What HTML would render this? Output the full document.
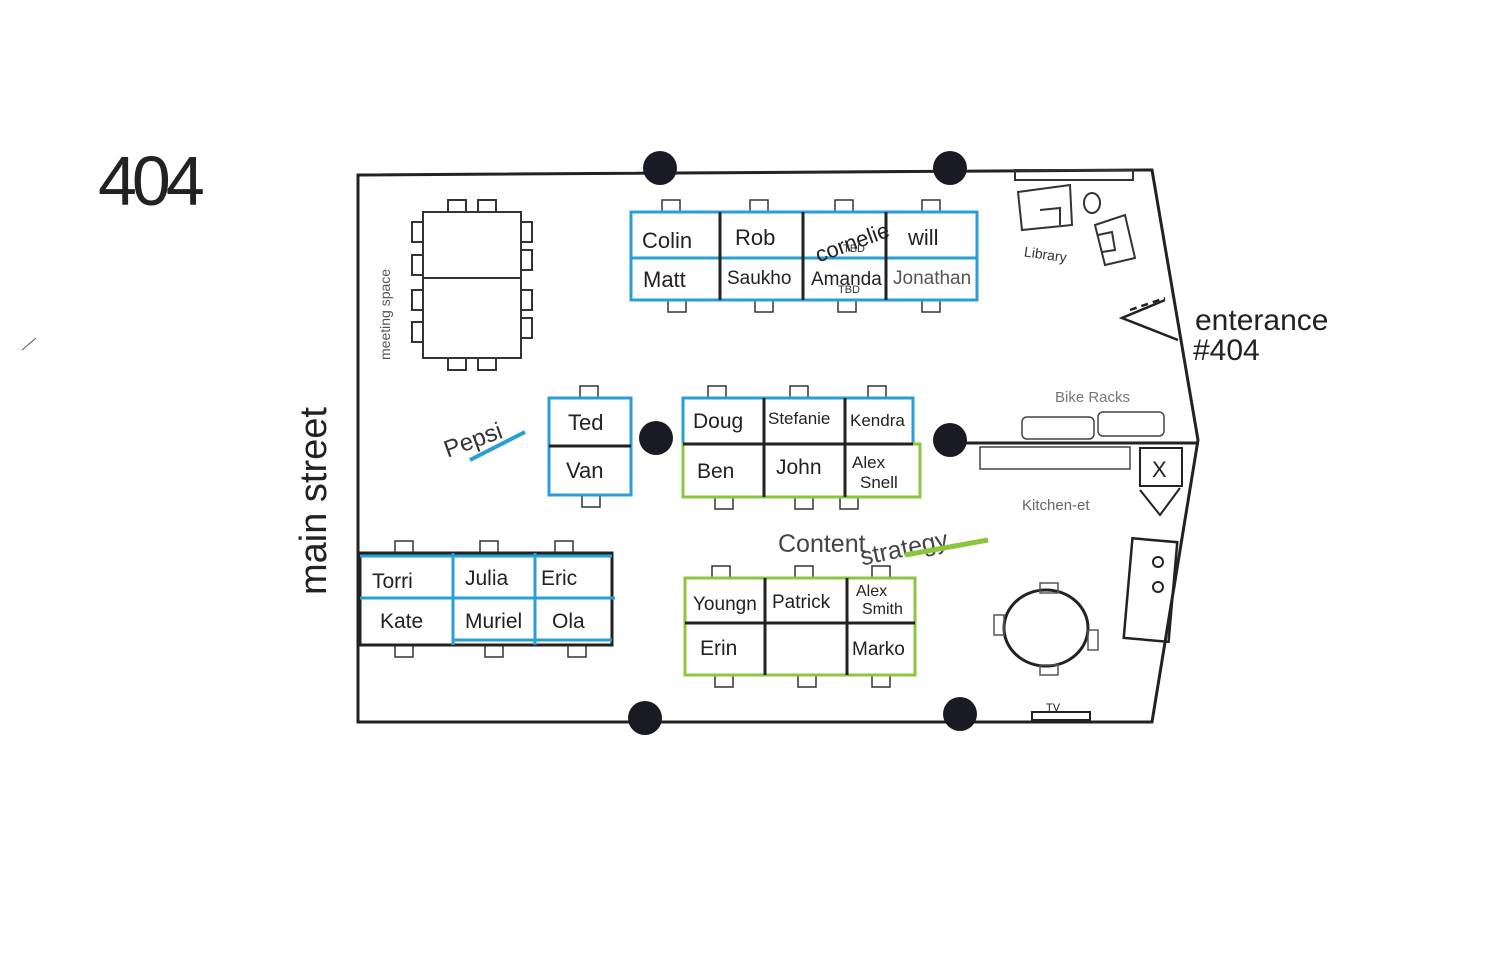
<!DOCTYPE html>
<html><head><meta charset="utf-8"><style>
html,body{margin:0;padding:0;background:#fff;}
svg{display:block;font-family:"Liberation Sans",sans-serif;}
</style></head><body>
<svg width="1500" height="971" viewBox="0 0 1500 971" xmlns="http://www.w3.org/2000/svg">
<rect width="1500" height="971" fill="#fff"/>
<text x="98" y="205" font-size="70" fill="#222" style="letter-spacing:-5px">404</text>
<path d="M358 175 L1152 170 L1198 440 L1152 722 L358 722 Z" fill="none" stroke="#222" stroke-width="3"/>
<line x1="958" y1="443" x2="1198" y2="443" stroke="#222" stroke-width="3"/>
<g fill="#1a1a24">
<circle cx="660" cy="168" r="17"/><circle cx="950" cy="168" r="17"/>
<circle cx="656" cy="438" r="17"/><circle cx="950" cy="440" r="17"/>
<circle cx="645" cy="718" r="17"/><circle cx="960" cy="714" r="17"/>
</g>
<g fill="none" stroke="#333" stroke-width="2">
<rect x="423" y="212" width="98" height="146"/><line x1="423" y1="278" x2="521" y2="278"/>
<rect x="412" y="222" width="11" height="20"/><rect x="412" y="255" width="11" height="20"/><rect x="412" y="290" width="11" height="20"/><rect x="412" y="322" width="11" height="20"/>
<rect x="521" y="222" width="11" height="20"/><rect x="521" y="250" width="11" height="20"/><rect x="521" y="290" width="11" height="20"/><rect x="521" y="318" width="11" height="20"/>
<rect x="448" y="200" width="18" height="12"/><rect x="478" y="200" width="18" height="12"/>
<rect x="448" y="358" width="18" height="12"/><rect x="478" y="358" width="18" height="12"/>
</g>
<text transform="translate(390,360) rotate(-90)" font-size="14" fill="#555">meeting space</text>
<g fill="none" stroke="#333" stroke-width="1.5">
<rect x="662" y="200" width="18" height="12"/><rect x="750" y="200" width="18" height="12"/><rect x="835" y="200" width="18" height="12"/><rect x="922" y="200" width="18" height="12"/>
<rect x="668" y="300" width="18" height="12"/><rect x="755" y="300" width="18" height="12"/><rect x="838" y="300" width="18" height="12"/><rect x="922" y="300" width="18" height="12"/>
<rect x="580" y="386" width="18" height="12"/><rect x="582" y="495" width="18" height="12"/>
<rect x="708" y="386" width="18" height="12"/><rect x="790" y="386" width="18" height="12"/><rect x="868" y="386" width="18" height="12"/>
<rect x="715" y="497" width="18" height="12"/><rect x="795" y="497" width="18" height="12"/><rect x="840" y="497" width="18" height="12"/>
<rect x="395" y="541" width="18" height="12"/><rect x="480" y="541" width="18" height="12"/><rect x="555" y="541" width="18" height="12"/>
<rect x="395" y="645" width="18" height="12"/><rect x="485" y="645" width="18" height="12"/><rect x="568" y="645" width="18" height="12"/>
<rect x="712" y="566" width="18" height="12"/><rect x="795" y="566" width="18" height="12"/><rect x="872" y="566" width="18" height="12"/>
<rect x="715" y="675" width="18" height="12"/><rect x="798" y="675" width="18" height="12"/><rect x="872" y="675" width="18" height="12"/>
</g>
<g fill="none" stroke-width="3">
<rect x="631" y="212" width="346" height="88" stroke="#2a9fd6"/>
<line x1="631" y1="258" x2="977" y2="258" stroke="#2a9fd6"/>
<line x1="720" y1="212" x2="720" y2="300" stroke="#222"/><line x1="803" y1="212" x2="803" y2="300" stroke="#222"/><line x1="886" y1="212" x2="886" y2="300" stroke="#222"/>
</g>
<g font-size="22" fill="#222">
<text x="642" y="248">Colin</text><text x="735" y="245">Rob</text><text x="908" y="245">will</text>
<text x="643" y="287">Matt</text><text x="727" y="284" font-size="19">Saukho</text><text x="811" y="285" font-size="19">Amanda</text><text x="893" y="284" font-size="19" fill="#555">Jonathan</text>
<text x="810" y="250" font-size="22" transform="rotate(-20 850 232)">cornelie</text>
</g>
<text x="843" y="252" font-size="11" fill="#333">TBD</text><text x="838" y="293" font-size="11" fill="#333">TBD</text>
<g fill="none" stroke-width="3">
<rect x="549" y="398" width="82" height="97" stroke="#2a9fd6"/><line x1="549" y1="446" x2="631" y2="446" stroke="#222"/>
</g>
<g font-size="22" fill="#222"><text x="568" y="430">Ted</text><text x="566" y="478">Van</text></g>
<g fill="none" stroke-width="3">
<rect x="683" y="398" width="230" height="46" stroke="#2a9fd6"/>
<rect x="683" y="444" width="237" height="53" stroke="#8cc63f"/>
<line x1="764" y1="398" x2="764" y2="497" stroke="#222"/><line x1="845" y1="398" x2="845" y2="497" stroke="#222"/>
<line x1="683" y1="444" x2="913" y2="444" stroke="#222"/>
</g>
<g font-size="21" fill="#222">
<text x="693" y="428">Doug</text><text x="768" y="424" font-size="17">Stefanie</text><text x="850" y="426" font-size="17">Kendra</text>
<text x="697" y="478">Ben</text><text x="776" y="474">John</text><text x="852" y="468" font-size="17">Alex</text><text x="860" y="488" font-size="17">Snell</text>
</g>
<text x="440" y="445" font-size="24" fill="#333" transform="rotate(-20 480 430)">Pepsi</text>
<line x1="470" y1="460" x2="525" y2="432" stroke="#2a9fd6" stroke-width="4"/>
<g fill="none" stroke-width="3">
<rect x="360" y="553" width="252" height="92" stroke="#222"/>
<line x1="360" y1="598" x2="615" y2="598" stroke="#2a9fd6"/>
<line x1="360" y1="556" x2="612" y2="556" stroke="#2a9fd6"/>
<line x1="453" y1="553" x2="453" y2="645" stroke="#2a9fd6"/><line x1="535" y1="553" x2="535" y2="645" stroke="#2a9fd6"/>
<line x1="453" y1="640" x2="612" y2="640" stroke="#2a9fd6"/>
</g>
<g font-size="21" fill="#222">
<text x="372" y="588">Torri</text><text x="465" y="585">Julia</text><text x="541" y="585">Eric</text>
<text x="380" y="628">Kate</text><text x="465" y="628">Muriel</text><text x="552" y="628">Ola</text>
</g>
<text x="778" y="552" font-size="25" fill="#444">Content</text>
<text x="858" y="555" font-size="25" fill="#444" transform="rotate(-12 910 540)">strategy</text>
<line x1="905" y1="555" x2="988" y2="540" stroke="#8cc63f" stroke-width="5"/>
<g fill="none" stroke-width="3">
<rect x="685" y="578" width="230" height="97" stroke="#8cc63f"/>
<line x1="685" y1="623" x2="915" y2="623" stroke="#222"/>
<line x1="765" y1="578" x2="765" y2="675" stroke="#222"/><line x1="847" y1="578" x2="847" y2="675" stroke="#222"/>
</g>
<g font-size="21" fill="#222">
<text x="693" y="610" font-size="19">Youngn</text><text x="772" y="608" font-size="19">Patrick</text><text x="856" y="596" font-size="16">Alex</text><text x="862" y="614" font-size="16">Smith</text>
<text x="700" y="655">Erin</text><text x="852" y="655" font-size="19">Marko</text>
</g>
<g fill="none" stroke="#333" stroke-width="2">
<rect x="1015" y="170" width="118" height="10"/>
<path d="M1018 192 L1070 185 L1072 225 L1022 230 Z"/><path d="M1040 210 L1060 208 L1060 225"/>
<ellipse cx="1092" cy="203" rx="8" ry="10"/>
<path d="M1095 225 L1125 215 L1135 258 L1105 265 Z"/><path d="M1098 235 L1112 232 L1115 250 L1102 252"/>
</g>
<text x="1024" y="260" font-size="14" fill="#333" transform="rotate(8 1050 255)">Library</text>
<path d="M1165 300 L1122 318 L1178 340" fill="none" stroke="#222" stroke-width="2.5"/>
<line x1="1130" y1="310" x2="1165" y2="298" stroke="#222" stroke-width="2.5" stroke-dasharray="7 5"/>
<text x="1195" y="330" font-size="30" fill="#222">enterance</text>
<text x="1193" y="360" font-size="30" fill="#222">#404</text>
<text x="1055" y="402" font-size="15" fill="#777">Bike Racks</text>
<g fill="none" stroke="#444" stroke-width="1.5">
<rect x="1022" y="417" width="72" height="22" rx="5"/><rect x="1098" y="412" width="66" height="24" rx="5"/>
<rect x="980" y="447" width="150" height="22"/>
</g>
<rect x="1140" y="448" width="42" height="38" fill="none" stroke="#222" stroke-width="2"/>
<text x="1152" y="477" font-size="22" fill="#222">X</text>
<path d="M1140 490 L1160 515 L1180 488" fill="none" stroke="#222" stroke-width="2"/>
<text x="1022" y="510" font-size="15" fill="#666">Kitchen-et</text>
<rect x="1128" y="540" width="45" height="100" fill="none" stroke="#222" stroke-width="2.5" transform="rotate(5 1150 590)"/>
<circle cx="1158" cy="562" r="5" fill="none" stroke="#222" stroke-width="2"/>
<circle cx="1158" cy="587" r="5" fill="none" stroke="#222" stroke-width="2"/>
<ellipse cx="1046" cy="628" rx="42" ry="38" fill="none" stroke="#222" stroke-width="3"/>
<g fill="none" stroke="#555" stroke-width="1.5">
<rect x="1040" y="583" width="18" height="10"/><rect x="1040" y="665" width="18" height="10"/>
<rect x="994" y="615" width="10" height="20"/><rect x="1088" y="630" width="10" height="20"/>
</g>
<rect x="1032" y="712" width="58" height="8" fill="none" stroke="#222" stroke-width="2"/>
<text x="1046" y="711" font-size="11" fill="#222">TV</text>
<text transform="translate(326,595) rotate(-90)" font-size="38" fill="#222">main street</text>
<line x1="22" y1="350" x2="36" y2="338" stroke="#555" stroke-width="1"/>
</svg>
</body></html>
